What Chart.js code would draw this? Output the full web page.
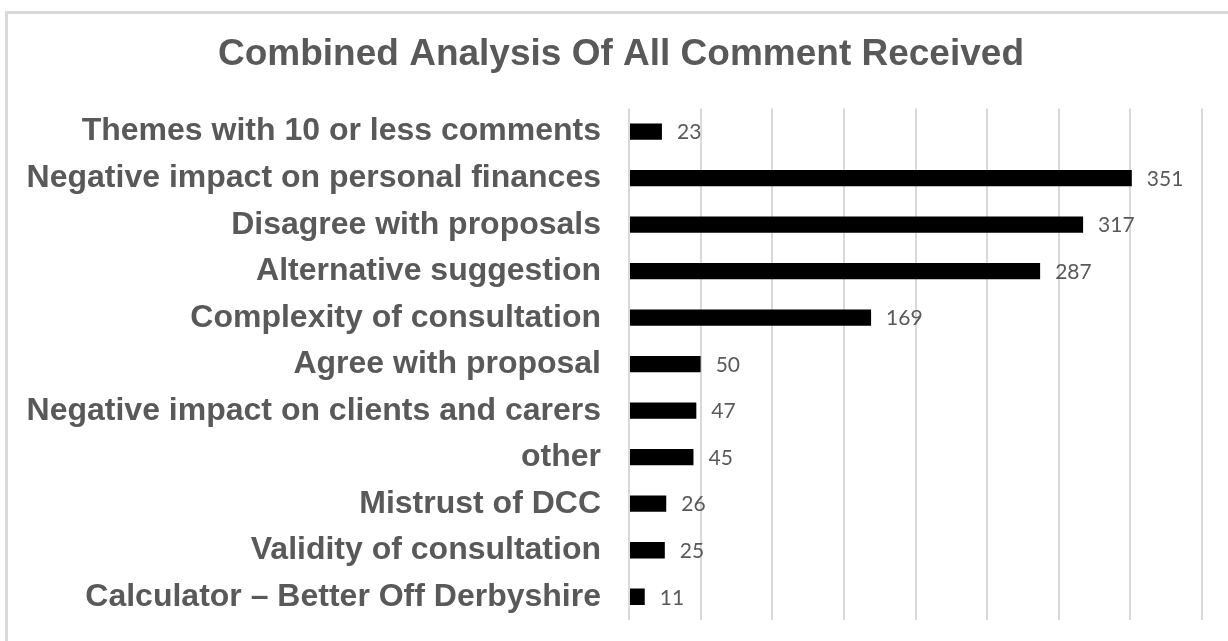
<!DOCTYPE html>
<html>
<head>
<meta charset="utf-8">
<script src="https://cdn.jsdelivr.net/npm/chart.js@4.4.1/dist/chart.umd.min.js"></script>
<style>
    html, body { margin: 0; padding: 0; background: #fff; }
    #frame {
        position: absolute; left: 5px; top: 11px; width: 1240px; height: 640px;
        border-left: 3px solid #d9d9d9; border-top: 3px solid #d9d9d9;
    }
    #wrap { position: absolute; left: 0; top: 0; width: 1228px; height: 641px; }
</style>
</head>
<body>
<div id="frame"></div>
<div id="wrap"><canvas id="chart"></canvas></div>
<script>
// Chart data (top to bottom as shown)
const categories = [
    'Themes with 10 or less comments',
    'Negative impact on personal finances',
    'Disagree with proposals',
    'Alternative suggestion',
    'Complexity of consultation',
    'Agree with proposal',
    'Negative impact on clients and carers',
    'other',
    'Mistrust of DCC',
    'Validity of consultation',
    'Calculator \u2013 Better Off Derbyshire'
];
const commentCounts = [23, 351, 317, 287, 169, 50, 47, 45, 26, 25, 11];

const TEXT_GREY = '#595959';
const GRID_GREY = '#d9d9d9';

// Draws the count just right of each bar
const valueLabels = {
    id: 'valueLabels',
    afterDatasetsDraw(chart) {
        const ctx = chart.ctx;
        const meta = chart.getDatasetMeta(0);
        ctx.save();
        ctx.fillStyle = TEXT_GREY;
        ctx.font = '21px Lato';
        ctx.textAlign = 'left';
        ctx.textBaseline = 'middle';
        meta.data.forEach((bar, i) => {
            ctx.fillText(String(commentCounts[i]), bar.x + 15, bar.y + 1);
        });
        ctx.restore();
    }
};

// The left padding only serves to centre the title; let the category
// labels use that space too (the scale clips labels to its own box)
const widenLabelArea = {
    id: 'widenLabelArea',
    afterLayout(chart) {
        chart.scales.y.left = 0;
    }
};

document.addEventListener('DOMContentLoaded', function() {
    const chartContext = document.getElementById('chart').getContext('2d');

    new Chart(chartContext, {
        type: 'bar',
        data: {
            labels: categories,
            datasets: [{
                label: 'Comments',
                data: commentCounts,
                backgroundColor: '#000000',
                borderWidth: 0,
                barPercentage: 0.35,
                categoryPercentage: 1
            }]
        },
        options: {
            indexAxis: 'y',
            responsive: true,
            maintainAspectRatio: false,
            animation: false,
            layout: {
                padding: { left: 40, right: 26, top: 0, bottom: 21 }
            },
            scales: {
                x: {
                    min: 0,
                    max: 400,
                    ticks: { display: false, stepSize: 50 },
                    grid: { color: GRID_GREY, lineWidth: 2, drawTicks: false },
                    border: { display: false }
                },
                y: {
                    grid: { display: false, drawTicks: false },
                    border: { display: false },
                    ticks: {
                        color: TEXT_GREY,
                        padding: 28,
                        font: { family: 'Liberation Sans', weight: 'bold', size: 32 }
                    },
                    afterFit: function(scale) {
                        // fixed label column, no extra room above/below for labels
                        scale.width = 589;
                        scale.paddingTop = 0;
                        scale.paddingBottom = 0;
                    }
                }
            },
            plugins: {
                legend: { display: false },
                tooltip: { enabled: false },
                title: {
                    display: true,
                    text: 'Combined Analysis Of All Comment Received',
                    color: TEXT_GREY,
                    font: { family: 'Liberation Sans', weight: 'bold', size: 37 },
                    padding: { top: 33, bottom: 31 }
                }
            }
        },
        plugins: [valueLabels, widenLabelArea]
    });
});
</script>
</body>
</html>
